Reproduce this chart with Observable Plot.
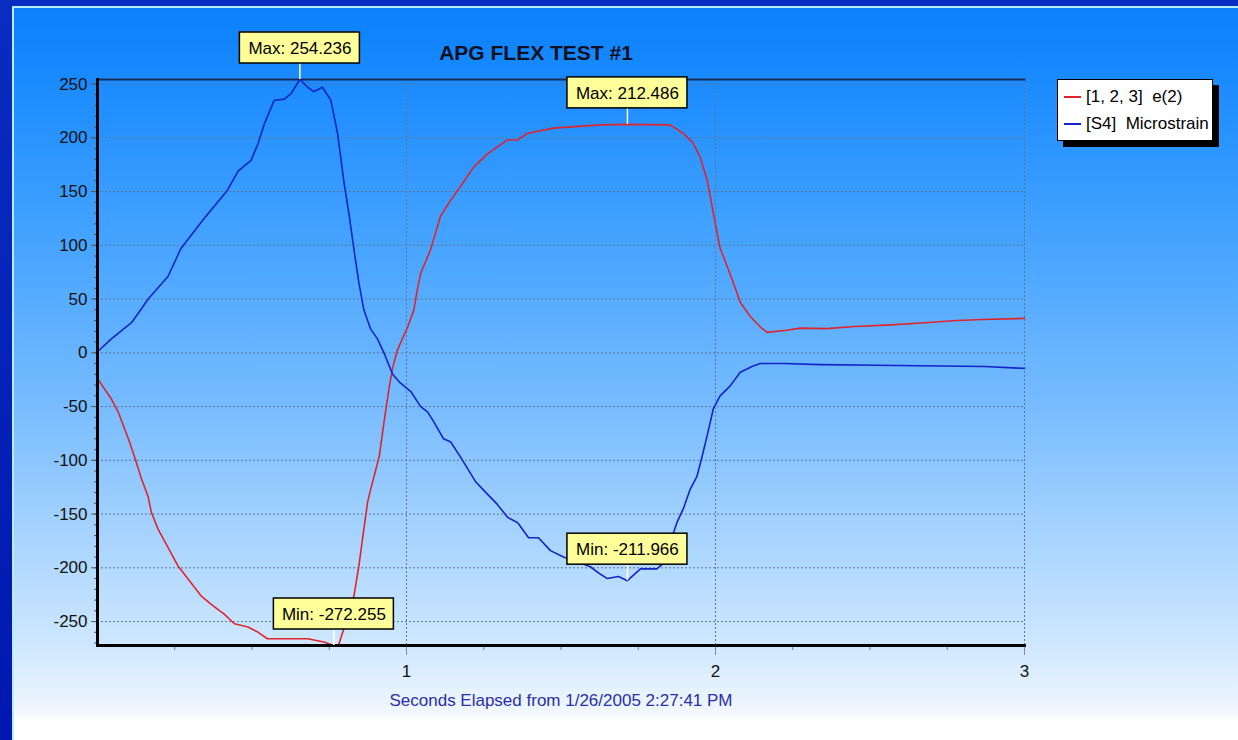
<!DOCTYPE html>
<html>
<head>
<meta charset="utf-8">
<script src="https://cdn.jsdelivr.net/npm/d3@7"></script>
<script src="https://cdn.jsdelivr.net/npm/@observablehq/plot@0.6"></script>
<style>
  html, body { margin: 0; padding: 0; }
  body { width: 1238px; height: 740px; overflow: hidden; position: relative; background: #0a22b4; }
  #slide { position: absolute; left: 0; top: 0; width: 1238px; height: 740px;
    background: linear-gradient(to bottom, #0a2cc0, #0018b0); }
  #panel { position: absolute; left: 12px; top: 6px; width: 1226px; height: 734px; box-sizing: border-box;
    border-top: 2px solid #b8ecff; border-left: 2px solid #b8ecff;
    background: linear-gradient(to bottom, #0a80fa 0px, #1c8cff 80px, #4aa6ff 250px, #78bcff 400px, #a8d4ff 530px, #d0e8ff 640px, #eef6ff 700px, #ffffff 714px, #ffffff 734px); }
  #chart { position: absolute; left: 0; top: 0; }
  #legend { position: absolute; left: 1057px; top: 79px; width: 154px; height: 60px; background: #fff;
    border: 1px solid #000; box-shadow: 6px 6px 0 #000;
    font-family: "Liberation Sans", Arial, sans-serif; font-size: 17px; color: #000; }
  .lg { position: absolute; left: 6px; height: 22px; line-height: 22px; white-space: pre; }
  .sw { display: inline-block; width: 17px; height: 2px; vertical-align: middle; margin-right: 5px; position: relative; top: -1px; }
</style>
</head>
<body>
<div id="slide"></div>
<div id="panel"></div>
<div id="chart"></div>
<div id="legend"></div>
<script>
// ---- data ----
const chartTitle = "APG FLEX TEST #1";
const xLabel = "Seconds Elapsed from 1/26/2005 2:27:41 PM";
const seriesNames = ["[1, 2, 3]  e(2)", "[S4]  Microstrain"];
const seriesColors = ["#e0242e", "#1424c8"];

const redSeconds = [0, 0.045, 0.067, 0.1, 0.12, 0.142, 0.164, 0.174, 0.196, 0.228, 0.26, 0.292, 0.335, 0.368, 0.41, 0.443, 0.487, 0.52, 0.55, 0.68, 0.733, 0.765, 0.78, 0.797, 0.814, 0.83, 0.846, 0.862, 0.874, 0.884, 0.895, 0.912, 0.927, 0.943, 0.955, 0.971, 1.004, 1.024, 1.035, 1.046, 1.078, 1.11, 1.143, 1.175, 1.218, 1.262, 1.327, 1.36, 1.39, 1.476, 1.628, 1.715, 1.853, 1.896, 1.928, 1.95, 1.973, 1.993, 2.015, 2.025, 2.058, 2.08, 2.112, 2.145, 2.167, 2.23, 2.275, 2.36, 2.45, 2.57, 2.678, 2.78, 2.865, 3.0];
const redValues = [-24, -43, -55, -80, -97, -117, -134, -148, -164, -181, -198, -210, -226, -234, -243, -252, -255, -260, -266, -266, -269, -272.255, -272, -257, -241, -226, -198, -164, -139, -127, -115, -96, -65, -34, -14, 3, 24, 40, 59, 74, 96, 127, 142, 155, 173, 185, 198, 198, 204, 209, 212, 212.486, 212, 204, 195, 182, 161, 130, 97, 90, 65, 47, 34, 24, 19, 21, 23, 22.5, 24.5, 26, 28, 30, 31, 32];

const blueSeconds = [0, 0.045, 0.11, 0.14, 0.164, 0.228, 0.27, 0.345, 0.42, 0.455, 0.497, 0.52, 0.54, 0.572, 0.605, 0.626, 0.655, 0.68, 0.7, 0.728, 0.755, 0.777, 0.798, 0.815, 0.83, 0.846, 0.862, 0.884, 0.906, 0.927, 0.955, 0.98, 1.014, 1.046, 1.068, 1.088, 1.12, 1.143, 1.175, 1.224, 1.247, 1.294, 1.327, 1.36, 1.395, 1.427, 1.466, 1.508, 1.54, 1.595, 1.628, 1.65, 1.686, 1.715, 1.757, 1.81, 1.83, 1.875, 1.896, 1.918, 1.94, 1.957, 1.973, 1.993, 2.015, 2.047, 2.08, 2.12, 2.145, 2.22, 2.34, 2.52, 2.87, 3.0];
const blueValues = [1, 13, 28, 40, 50, 71, 97, 125, 151, 169, 179, 195, 213, 235, 236, 241, 254.236, 247, 243, 247, 235, 204, 158, 127, 96, 65, 40, 22, 13, 0, -20, -28, -36, -50, -55, -64, -80, -83, -97, -120, -127, -141, -153, -158, -172, -172, -184, -190, -193, -199, -206, -210, -208, -211.966, -201, -201, -196, -158, -145, -127, -115, -96, -77, -52, -40, -31, -18, -12.5, -10, -10, -11, -11.5, -12.7, -14.5];

const noteLabels = ["Max: 254.236", "Max: 212.486", "Min: -272.255", "Min: -211.966"];
const noteSeconds = [0.655, 1.715, 0.765, 1.715];
const noteValues = [254.236, 212.486, -272.255, -211.966];

const yMajorTicks = [-250, -200, -150, -100, -50, 0, 50, 100, 150, 200, 250];
const xMajorTicks = [1, 2, 3];

// ---- build tables ----
const red = redSeconds.map((t, i) => ({t, v: redValues[i]}));
const blue = blueSeconds.map((t, i) => ({t, v: blueValues[i]}));
const notes = noteLabels.map((label, i) => ({label, t: noteSeconds[i], v: noteValues[i]}));
const yMinor = d3.range(-270, 255, 10);
const xMinor = d3.range(0.25, 3, 0.25).filter(d => !Number.isInteger(d));

const FONT = '"Liberation Sans", Arial, sans-serif';
const grid = {stroke: "#5f7590", strokeOpacity: 1, strokeWidth: 1, strokeDasharray: "2,2"};

const chart = Plot.plot({
  width: 1238,
  height: 740,
  marginLeft: 97,
  marginRight: 214,
  marginTop: 79,
  marginBottom: 95,
  style: {background: "transparent", fontFamily: FONT, fontSize: "17px", color: "#000", overflow: "visible"},
  x: {domain: [0, 3]},
  y: {domain: [-272.255, 254.236]},
  marks: [
    Plot.gridY(yMajorTicks, grid),
    Plot.gridX(xMajorTicks, grid),
    Plot.frame({anchor: "top", stroke: "#182a58", strokeWidth: 2}),
    Plot.axisY(yMinor, {tickSize: 3, fill: "none", stroke: "#555", label: null}),
    Plot.axisY(yMajorTicks, {tickSize: 6, tickPadding: 4, tickFormat: d => String(d), stroke: "#555", fill: "#111", label: null, fontSize: 17}),
    Plot.axisX(xMinor, {tickSize: 5, fill: "none", stroke: "#777", label: null}),
    Plot.axisX(xMajorTicks, {tickSize: 10, tickPadding: 9, tickFormat: d => String(d), stroke: "#888", fill: "#111", label: null, fontSize: 17}),
    Plot.line(red, {x: "t", y: "v", stroke: seriesColors[0], strokeWidth: 1.6}),
    Plot.line(blue, {x: "t", y: "v", stroke: seriesColors[1], strokeWidth: 1.6}),
    Plot.frame({anchor: "left", stroke: "#000", strokeWidth: 3}),
    Plot.frame({anchor: "bottom", stroke: "#000", strokeWidth: 3}),
    Plot.ruleX(notes, {x: "t", y1: "v", y2: "v", insetTop: -16, stroke: "#fff", strokeWidth: 1.5}),
    Plot.rect(notes, {x1: "t", x2: "t", y1: "v", y2: "v", insetLeft: -60, insetRight: -60, insetTop: -47, insetBottom: 16, fill: "#ffff99", stroke: "#000", strokeWidth: 1.5}),
    Plot.text(notes, {x: "t", y: "v", text: "label", dy: -31, fill: "#000", fontSize: 17}),
    Plot.text([chartTitle], {frameAnchor: "top", lineAnchor: "middle", dx: -25, dy: -26, fontWeight: "bold", fontSize: 21, fill: "#0c1020"}),
    Plot.text([xLabel], {frameAnchor: "bottom", lineAnchor: "middle", dy: 55, fill: "#2a2ea8", fontSize: 17})
  ]
});
document.getElementById("chart").appendChild(chart);

// legend
const legend = document.getElementById("legend");
seriesNames.forEach((name, i) => {
  const row = document.createElement("div");
  row.className = "lg";
  row.style.top = (6 + i * 27) + "px";
  const sw = document.createElement("span");
  sw.className = "sw";
  sw.style.background = seriesColors[i];
  row.appendChild(sw);
  row.appendChild(document.createTextNode(name));
  legend.appendChild(row);
});
</script>
</body>
</html>
